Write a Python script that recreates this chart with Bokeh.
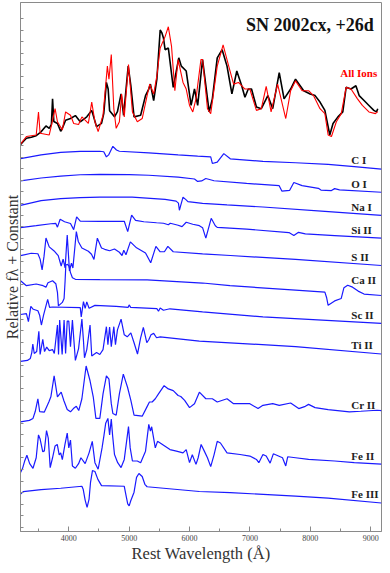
import numpy as np
from bokeh.plotting import figure
from bokeh.models import Range1d, SingleIntervalTicker, FixedTicker, Label, ColumnDataSource
from bokeh.core.properties import value
from bokeh.embed import file_html
from bokeh.resources import INLINE

# ---------------- data (rest wavelength in Angstrom, relative flux + constant) ----------------
obs_wl = [3201, 3250, 3298, 3379, 3460, 3541, 3622, 3676, 3712, 3731, 3752, 3812, 3866, 3906, 3947,
          4028, 4109, 4190, 4298, 4380, 4460, 4542, 4579, 4623, 4652, 4676, 4757, 4806, 4866, 4908,
          4984, 5028, 5081, 5190, 5271, 5325, 5352, 5406, 5459, 5514, 5543, 5568, 5595, 5649, 5676,
          5730, 5822, 5864, 5945, 6026, 6082, 6135, 6216, 6325, 6378, 6459, 6540, 6621, 6702, 6783,
          6864, 6918, 6973, 7027, 7108, 7189, 7297, 7378, 7486, 7566, 7675, 7756, 7891, 7999, 8080,
          8161, 8242, 8296, 8323, 8377, 8458, 8539, 8594, 8675, 8756, 8810, 8891, 8972, 9053, 9096, 9118]
obs_flux = [393.5, 397, 400, 401, 402.5, 406.5, 412.5, 410, 414, 440, 417, 415, 407, 412, 418.3,
            420, 423, 416.7, 421.7, 428.3, 411.7, 415, 425, 456.7, 450, 428, 421.7, 427, 445, 423.3,
            473.3, 453.3, 421.7, 423.3, 443.3, 450, 455, 438.3, 460, 510, 507, 502, 490, 491.7, 478.3,
            451.7, 481.7, 473.3, 468.3, 433.3, 450, 433.3, 480, 426.7, 440, 481.7, 490, 473.3, 445, 468.3,
            453.3, 441.7, 450, 450, 431.7, 430, 443.3, 430, 466.7, 440, 450, 460, 448.3, 445, 443.3,
            436.7, 428.3, 411.7, 403.3, 415, 421.7, 426.7, 451.7, 450, 453.3, 443.3, 438.3, 433.3, 428.3, 426.7, 430]

all_wl = [3201, 3298, 3460, 3498, 3525, 3676, 3720, 3773, 3812, 3893, 3947, 4028, 4081, 4162, 4217,
          4271, 4324, 4380, 4433, 4486, 4567, 4639, 4665, 4704, 4746, 4785, 4838, 4875, 4919, 4989,
          5054, 5135, 5216, 5297, 5341, 5406, 5459, 5514, 5595, 5649, 5702, 5757, 5811, 5892, 5945,
          6000, 6054, 6107, 6189, 6216, 6297, 6351, 6459, 6556, 6649, 6730, 6811, 6918, 6999, 7108,
          7189, 7270, 7351, 7459, 7594, 7675, 7756, 7865, 7972, 8053, 8161, 8242, 8296, 8351, 8432,
          8513, 8594, 8675, 8782, 8863, 8972, 9080, 9118]
all_flux = [394, 401.7, 403.3, 426.7, 405, 403.3, 415, 430, 416.7, 408.3, 426.7, 423.3, 415, 414, 421.7,
            418.3, 415, 436.7, 416.7, 406.7, 423.3, 473.3, 460, 485, 430, 410, 416.7, 445, 421.7, 475,
            426.7, 416.7, 420, 443.3, 455, 445, 463.3, 491.7, 503.3, 513.3, 493.3, 448.3, 480, 456.7, 450,
            433.3, 426.7, 440, 480, 480, 430, 425, 473.3, 495, 473.3, 455, 456.7, 450, 450, 428.3,
            430, 452.7, 426.7, 455, 420, 448.3, 458.3, 448.3, 448.3, 443.3, 430, 425, 403.3, 401.7, 416.7,
            425, 451.7, 450, 440, 433.3, 426.7, 425, 427]

cI_wl = [3201, 3541, 3866, 4190, 4514, 4579, 4623, 4660, 4730, 4790, 4838, 5325, 5811, 6135, 6351,
         6378, 6459, 6568, 6675, 7216, 7756, 8296, 8729, 9178]
cI_flux = [379.3, 383, 385.5, 386.5, 386.7, 386.2, 381, 383, 391.7, 388, 386.7, 385, 383, 381.7, 381,
           374.3, 375.7, 384.3, 379, 376.5, 375, 373.3, 371, 368.5]

oI_wl = [3201, 3541, 3866, 4190, 4514, 5000, 5325, 5811, 6082, 6135, 6200, 6270, 6406, 6946, 7485,
         7529, 7659, 7728, 7865, 8134, 8177, 8351, 8404, 8485, 9178]
oI_flux = [356.5, 359.5, 361.5, 362.8, 363.3, 363, 362.3, 360.5, 358.5, 356, 356.5, 359, 356.7, 354, 351.7,
           346.2, 347, 355, 351.7, 349, 347.2, 346.7, 348.7, 347.5, 345]

naI_wl = [3201, 3541, 3866, 4190, 4514, 5049, 5595, 5778, 5816, 5832, 5851, 5892, 5940, 5973, 6216,
          6621, 7216, 8242, 9178]
naI_flux = [331.7, 336.5, 338.5, 339.5, 340, 340, 337.7, 336, 334, 326.7, 331, 340, 337.5, 335.5, 333.7,
            332.2, 330, 325.5, 321.5]

siII_wl = [3201, 3460, 3703, 3785, 3812, 3857, 3930, 4028, 4081, 4130, 4190, 4514, 4919, 4976, 5041,
           5106, 5243, 5454, 5568, 5649, 5681, 5811, 5876, 5945, 6054, 6163, 6216, 6270, 6359, 6427,
           6459, 6946, 7647, 7728, 7805, 7918, 8404, 9178]
siII_flux = [309, 311, 313, 313.3, 309.5, 317.5, 315, 313.2, 307, 320, 315.7, 315.5, 315.5, 305, 321.7,
             316.5, 315, 314, 313.5, 312, 313.5, 311.5, 310, 314.5, 312.5, 311, 309, 298.3, 318.5, 311,
             309.3, 307.5, 304, 301, 304.3, 302.7, 301, 298.3]

sII_wl = [3201, 3379, 3488, 3525, 3558, 3590, 3622, 3676, 3757, 3825, 3874, 3906, 3939, 3974, 4011,
          4044, 4068, 4125, 4157, 4217, 4324, 4376, 4417, 4473, 4542, 4595, 4676, 4757, 4838, 4882,
          4911, 4947, 5020, 5122, 5271, 5357, 5443, 5514, 5584, 5641, 5730, 6216, 6675, 7756, 9178]
sII_flux = [280.5, 283, 282.5, 277, 266, 280, 298.5, 289.5, 285.3, 280.5, 270, 277, 268, 301.5, 265,
            273, 268, 305, 295, 288.3, 285, 282, 276.7, 298.3, 288.3, 287, 285.5, 287.3, 284, 280.7,
            286, 281.5, 294.5, 288.5, 283.3, 273.3, 290, 284.5, 284.5, 290, 284.5, 282.3, 280.7, 276.7, 270.5]

caII_wl = [3201, 3298, 3460, 3574, 3622, 3655, 3731, 3785, 3812, 3828, 3893, 3922, 3939, 3951, 3979,
           4003, 4028, 4060, 4109, 4514, 5297, 6216, 6670, 7756, 8242, 8270, 8296, 8404, 8513, 8558,
           8620, 8701, 8793, 8891, 9178]
caII_flux = [255, 250, 251.7, 250, 248.5, 253, 255, 252, 243.3, 229.5, 233, 237, 255, 271, 271.7,
             270, 263.3, 258, 256.5, 256.2, 256, 252.7, 250, 245.5, 243.5, 238, 230, 234.5, 237, 248,
             250.5, 248.5, 244.5, 241.5, 240]

scII_wl = [3201, 3298, 3331, 3371, 3412, 3488, 3517, 3546, 3582, 3650, 3682, 3731, 4190, 4206, 4243,
           4271, 4298, 4336, 4433, 4785, 4984, 5000, 5025, 5459, 5486, 5514, 5568, 5676, 6216, 7216, 9178]
scII_flux = [220.7, 221.5, 213.5, 229, 226, 224.5, 220, 210, 220, 236, 228, 228.3, 227.7, 218.3, 233.7,
             227, 233.5, 227, 230, 229, 228, 230.5, 228, 226.7, 224, 227.3, 225, 226.5, 223.3, 218.3, 211.7]

tiII_wl = [3201, 3314, 3363, 3387, 3404, 3428, 3468, 3504, 3525, 3569, 3598, 3634, 3676, 3731, 3760,
           3812, 3830, 3849, 3890, 3922, 3947, 3974, 4000, 4028, 4060, 4109, 4162, 4217, 4243, 4260,
           4298, 4352, 4380, 4460, 4514, 4567, 4623, 4648, 4676, 4704, 4746, 4773, 4806, 4866, 4919,
           4968, 5028, 5081, 5138, 5190, 5235, 5292, 5325, 5362, 5406, 5454, 5514, 6163, 7756, 9178]
tiII_flux = [173, 174, 176, 182, 190.5, 181, 183, 203.5, 180, 195.5, 183, 187.5, 184, 185, 181,
             210, 180, 215, 180, 215, 181, 214, 214, 188, 215, 174, 186, 216, 194, 176.7,
             185, 210, 178.5, 182, 180, 185, 208.3, 190, 208, 188, 208.3, 190, 205, 216, 200,
             198, 202, 192, 180.5, 197, 207.5, 192, 195, 200, 201.5, 197, 198, 193.7, 188, 180.5]

crII_wl = [3201, 3347, 3407, 3444, 3488, 3517, 3595, 3671, 3703, 3757, 3812, 3874, 3919, 3974, 4028,
           4076, 4125, 4165, 4217, 4287, 4352, 4405, 4449, 4514, 4567, 4623, 4665, 4704, 4730, 4785,
           4838, 4903, 4973, 5028, 5081, 5216, 5297, 5336, 5381, 5433, 5486, 5579, 5649, 5730, 5811,
           5855, 5919, 6000, 6082, 6163, 6270, 6378, 6459, 6621, 6730, 6864, 6999, 7135, 7216, 7378,
           7486, 7675, 7809, 7918, 7972, 8080, 8296, 8648, 8837, 9106, 9178]
crII_flux = [111.5, 113, 115, 122, 135, 122, 121.5, 132, 137, 158.3, 137, 141.7, 133, 124, 121.7,
             125, 127.3, 123, 135, 168.3, 153.3, 137, 115, 115, 140, 158.3, 155, 130, 120, 118.3,
             140, 160, 146.7, 133.3, 118.3, 117.3, 127, 131.7, 131.7, 135, 140, 148.3, 145, 143.3, 138.3,
             137.3, 133.3, 126, 130, 141.7, 135, 135, 131.7, 135, 130, 130, 130, 125, 128.3, 130,
             128.3, 130.7, 125, 127.3, 129.3, 126, 124, 121.7, 122.3, 123.3, 123]

feII_wl = [3201, 3233, 3271, 3306, 3352, 3407, 3460, 3498, 3525, 3569, 3595, 3631, 3660, 3692, 3731,
           3773, 3809, 3841, 3866, 3893, 3935, 3974, 4000, 4028, 4060, 4109, 4162, 4201, 4271, 4336,
           4389, 4433, 4486, 4551, 4584, 4611, 4648, 4676, 4704, 4725, 4757, 4810, 4866, 4919, 4989,
           5017, 5054, 5135, 5190, 5271, 5325, 5352, 5373, 5433, 5470, 5514, 5595, 5676, 5783, 5892,
           5945, 6000, 6046, 6107, 6143, 6192, 6243, 6297, 6351, 6406, 6459, 6512, 6621, 6837, 6999,
           7108, 7148, 7216, 7270, 7335, 7388, 7540, 7594, 7626, 7756, 7972, 8404, 8729, 9178]
feII_flux = [60, 64, 72, 77.5, 69, 64.3, 75, 98.3, 94, 81, 82, 102.7, 95, 65, 75,
             87, 88.5, 78, 80, 73, 88, 100, 85, 93, 66.7, 64.3, 69, 75, 69, 80,
             91.7, 70, 63.3, 85, 98.3, 110, 115, 98.3, 114.3, 98, 78.3, 70, 65, 73.3, 106.7,
             85, 71.7, 71.7, 70, 81.7, 109, 102, 106.5, 85, 91.7, 90, 86.7, 83.3, 81.7, 80,
             83.3, 70, 78, 68.3, 75, 88.5, 82, 75, 66, 78, 91.7, 90, 80, 78.3, 76.7,
             73.3, 70, 78.3, 76.7, 69.5, 79, 75, 66.7, 76, 75, 73.3, 71.7, 70, 68.5]

feIII_wl = [3201, 3245, 3541, 3866, 4217, 4238, 4271, 4303, 4336, 4360, 4392, 4433, 4482, 4542, 4919,
            4947, 4976, 5000, 5025, 5081, 5122, 5162, 5216, 5260, 5297, 6163, 6675, 7756, 8296, 9178]
feIII_flux = [38, 40.5, 42.5, 44, 46, 43, 32, 24.5, 33, 50, 62, 61, 53, 46.7, 46,
              37, 28, 26, 31, 40, 55, 59, 56, 48, 45.5, 40.7, 39.5, 36, 34, 29]

ion_names = ["C I", "O I", "Na I", "Si II", "S II", "Ca II", "Sc II", "Ti II", "Cr II", "Fe II", "Fe III"]
ion_wl = [cI_wl, oI_wl, naI_wl, siII_wl, sII_wl, caII_wl, scII_wl, tiII_wl, crII_wl, feII_wl, feIII_wl]
ion_flux = [cI_flux, oI_flux, naI_flux, siII_flux, sII_flux, caII_flux, scII_flux, tiII_flux,
            crII_flux, feII_flux, feIII_flux]

title_text = "SN 2002cx, +26d"
model_label = "All Ions"
x_ticks_major = 1000

# ---------------- figure ----------------
FONT = "Liberation Serif"
GREY = "#8a8a8a"

p = figure(width=382, height=565, output_backend="svg", toolbar_location=None,
           x_range=Range1d(3200, 9180), y_range=Range1d(0, 538))
p.min_border_left = 0
p.min_border_right = 1
p.min_border_top = 2
p.min_border_bottom = 0
p.grid.visible = False
p.outline_line_color = GREY
p.background_fill_color = "white"
p.border_fill_color = "white"

# spectra
p.line(obs_wl, obs_flux, line_color="black", line_width=1.6)
p.line(all_wl, all_flux, line_color="#ff0000", line_width=1.1)
for wl, fl in zip(ion_wl, ion_flux):
    p.line(wl, fl, line_color="#1a1aff", line_width=1.2)

# ion labels, placed just above each curve near its right end
lab_x = 8680
lab_y = [float(np.interp(lab_x, wl, fl)) + 6.5 for wl, fl in zip(ion_wl, ion_flux)]
src = ColumnDataSource(dict(x=[lab_x] * len(ion_names), y=lab_y, t=ion_names))
p.text(x="x", y="y", text="t", source=src, text_align="left", text_baseline="middle",
       text_font=value(FONT), text_font_style="bold", text_font_size="11px", text_color="#222222")

p.add_layout(Label(x=8497, y=466, text=model_label, text_align="left", text_baseline="middle",
                   text_font=FONT, text_font_style="bold", text_font_size="11px", text_color="#ff0000"))
p.add_layout(Label(x=9053, y=515, text=title_text, text_align="right", text_baseline="middle",
                   text_font=FONT, text_font_style="bold", text_font_size="18px", text_color="#111111"))

# axes
xa = p.xaxis[0]
xa.ticker = SingleIntervalTicker(interval=x_ticks_major, num_minor_ticks=2)
xa.axis_label = "Rest Wavelength (Å)"
xa.axis_label_text_font = FONT
xa.axis_label_text_font_style = "normal"
xa.axis_label_text_font_size = "16.5px"
xa.axis_label_text_color = "#333333"
xa.axis_label_standoff = 0
xa.major_label_text_font = FONT
xa.major_label_text_font_size = "8px"
xa.major_label_text_color = "#444444"
xa.major_label_standoff = 3
xa.major_tick_in = 5
xa.major_tick_out = 0
xa.minor_tick_in = 3
xa.minor_tick_out = 0
xa.axis_line_color = GREY
xa.major_tick_line_color = GREY
xa.minor_tick_line_color = GREY

ya = p.yaxis[0]
# unlabelled ticks on the left edge: drawn as minor ticks so no tick texts are created
ya.ticker = FixedTicker(ticks=[], minor_ticks=[4.3 + 11.76 * k for k in range(45)])
ya.major_label_text_font_size = "8px"
ya.major_label_standoff = 0
ya.axis_label = "Relative fλ + Constant"
ya.axis_label_text_font = FONT
ya.axis_label_text_font_style = "normal"
ya.axis_label_text_font_size = "16px"
ya.axis_label_text_color = "#333333"
ya.axis_label_standoff = 0
ya.major_tick_in = 0
ya.major_tick_out = 0
ya.minor_tick_in = 3
ya.minor_tick_out = 0
ya.axis_line_color = GREY
ya.minor_tick_line_color = GREY

open("out.html", "w").write(file_html(p, INLINE))
